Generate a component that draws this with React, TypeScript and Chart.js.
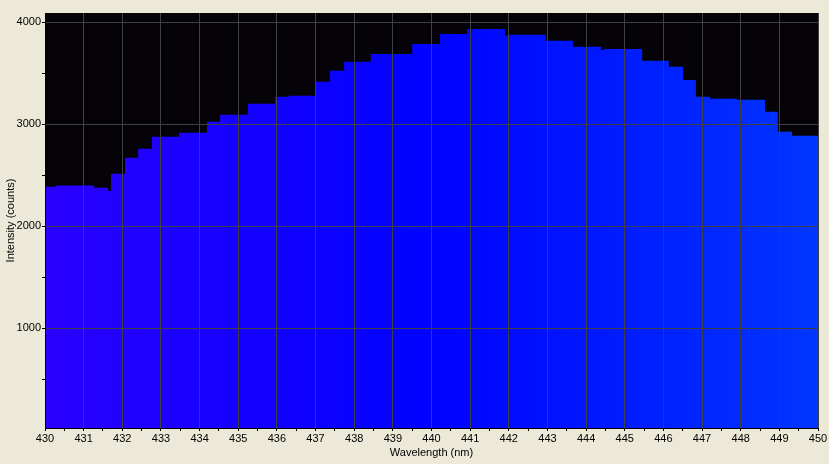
import React, { useEffect, useRef } from "react";
import { Chart, registerables } from "chart.js";

Chart.register(...registerables);

// Step start wavelengths (nm) and intensities (counts)
const wavelengths = [
  430.0, 430.28, 431.27, 431.63, 431.71, 432.07, 432.41, 432.77, 433.47, 434.19,
  434.53, 435.25, 435.95, 436.31, 436.99, 437.37, 437.74, 438.43, 439.5, 440.22,
  440.92, 441.9, 442.01, 442.96, 443.66, 444.39, 444.46, 445.45, 446.14, 446.51,
  446.84, 447.21, 447.9, 448.63, 448.96, 449.33, 450.0,
];
const intensities = [
  2385, 2398, 2375, 2346, 2513, 2670, 2758, 2876, 2915, 3023,
  3091, 3199, 3268, 3278, 3415, 3523, 3611, 3689, 3787, 3885,
  3934, 3866, 3876, 3817, 3758, 3728, 3738, 3621, 3562, 3434,
  3268, 3248, 3238, 3121, 2925, 2885, 2885,
];
const xTitle = "Wavelength (nm)";
const yTitle = "Intensity (counts)";

const FONT = "Liberation Sans";

export default function App() {
  const ref = useRef<HTMLCanvasElement>(null);

  useEffect(() => {
    if (!ref.current) return;
    const bgPlugin = {
      id: "bgPlugin",
      beforeDraw(chart: any) {
        const { ctx, chartArea } = chart;
        ctx.save();
        ctx.fillStyle = "#ECE9D8";
        ctx.fillRect(0, 0, chart.width, chart.height);
        ctx.fillStyle = "#050308";
        ctx.fillRect(chartArea.left, chartArea.top, chartArea.right - chartArea.left, chartArea.bottom - chartArea.top);
        ctx.restore();
      },
    };
    const chart = new Chart(ref.current, {
      type: "line",
      data: {
        datasets: [
          {
            data: wavelengths.map((w, i) => ({ x: w, y: intensities[i] })),
            stepped: "before",
            fill: "start",
            borderWidth: 0,
            borderColor: "rgba(0,0,0,0)",
            pointRadius: 0,
            backgroundColor: (c: any) => {
              const a = c.chart.chartArea;
              if (!a) return "#0000ff";
              const g = c.chart.ctx.createLinearGradient(a.left, 0, a.right, 0);
              g.addColorStop(0, "rgb(42,0,255)");
              g.addColorStop(0.5, "rgb(0,2,255)");
              g.addColorStop(1, "rgb(0,54,255)");
              return g;
            },
          },
        ],
      },
      options: {
        animation: false,
        responsive: false,
        maintainAspectRatio: false,
        layout: { padding: { left: 0, top: 13, right: 11, bottom: 0 } },
        plugins: { legend: { display: false }, tooltip: { enabled: false } },
        scales: {
          x: {
            type: "linear",
            min: 430,
            max: 450,
            afterBuildTicks: (s: any) => {
              const t = [];
              for (let k = 0; k <= 40; k++) t.push({ value: 430 + k * 0.5 });
              s.ticks = t;
            },
            afterFit: (s: any) => {
              s.height = 36;
            },
            ticks: {
              autoSkip: false,
              maxRotation: 0,
              padding: 1,
              color: "#000",
              font: { family: FONT, size: 11 },
              callback: (v: any) => (Math.abs(v - Math.round(v)) < 1e-6 ? String(Math.round(v)) : ""),
            },
            grid: {
              z: 1,
              color: (c: any) => (c.tick && Math.abs(c.tick.value - Math.round(c.tick.value)) < 1e-6 ? "#404040" : "rgba(0,0,0,0)"),
              tickColor: "#000",
              tickLength: 3,
              lineWidth: 1,
            },
            border: { color: "#000", width: 1, z: 1 },
            title: {
              display: true,
              text: xTitle,
              color: "#000",
              font: { family: FONT, size: 11 },
              padding: { top: 0, bottom: 4 },
            },
          },
          y: {
            type: "linear",
            min: 20,
            max: 4090,
            afterBuildTicks: (s: any) => {
              const t = [];
              for (let v = 500; v <= 4000; v += 500) t.push({ value: v });
              s.ticks = t;
            },
            afterFit: (s: any) => {
              s.width = 45;
            },
            ticks: {
              autoSkip: false,
              padding: 1,
              color: "#000",
              font: { family: FONT, size: 11 },
              callback: (v: any) => (v % 1000 === 0 ? String(v) : ""),
            },
            grid: {
              z: 1,
              color: (c: any) => (c.tick && c.tick.value % 1000 === 0 ? "#404040" : "rgba(0,0,0,0)"),
              tickColor: "#000",
              tickLength: 3,
              lineWidth: 1,
            },
            border: { color: "#000", width: 1, z: 1 },
            title: {
              display: true,
              text: yTitle,
              color: "#000",
              font: { family: FONT, size: 11 },
              padding: { top: 4, bottom: 0 },
            },
          },
        },
      },
      plugins: [bgPlugin],
    } as any);
    return () => chart.destroy();
  }, []);

  return (
    <div style={{ position: "fixed", left: 0, top: 0, width: 829, height: 464, background: "#ECE9D8" }}>
      <canvas ref={ref} width={829} height={464} style={{ width: 829, height: 464, display: "block" }} />
    </div>
  );
}
